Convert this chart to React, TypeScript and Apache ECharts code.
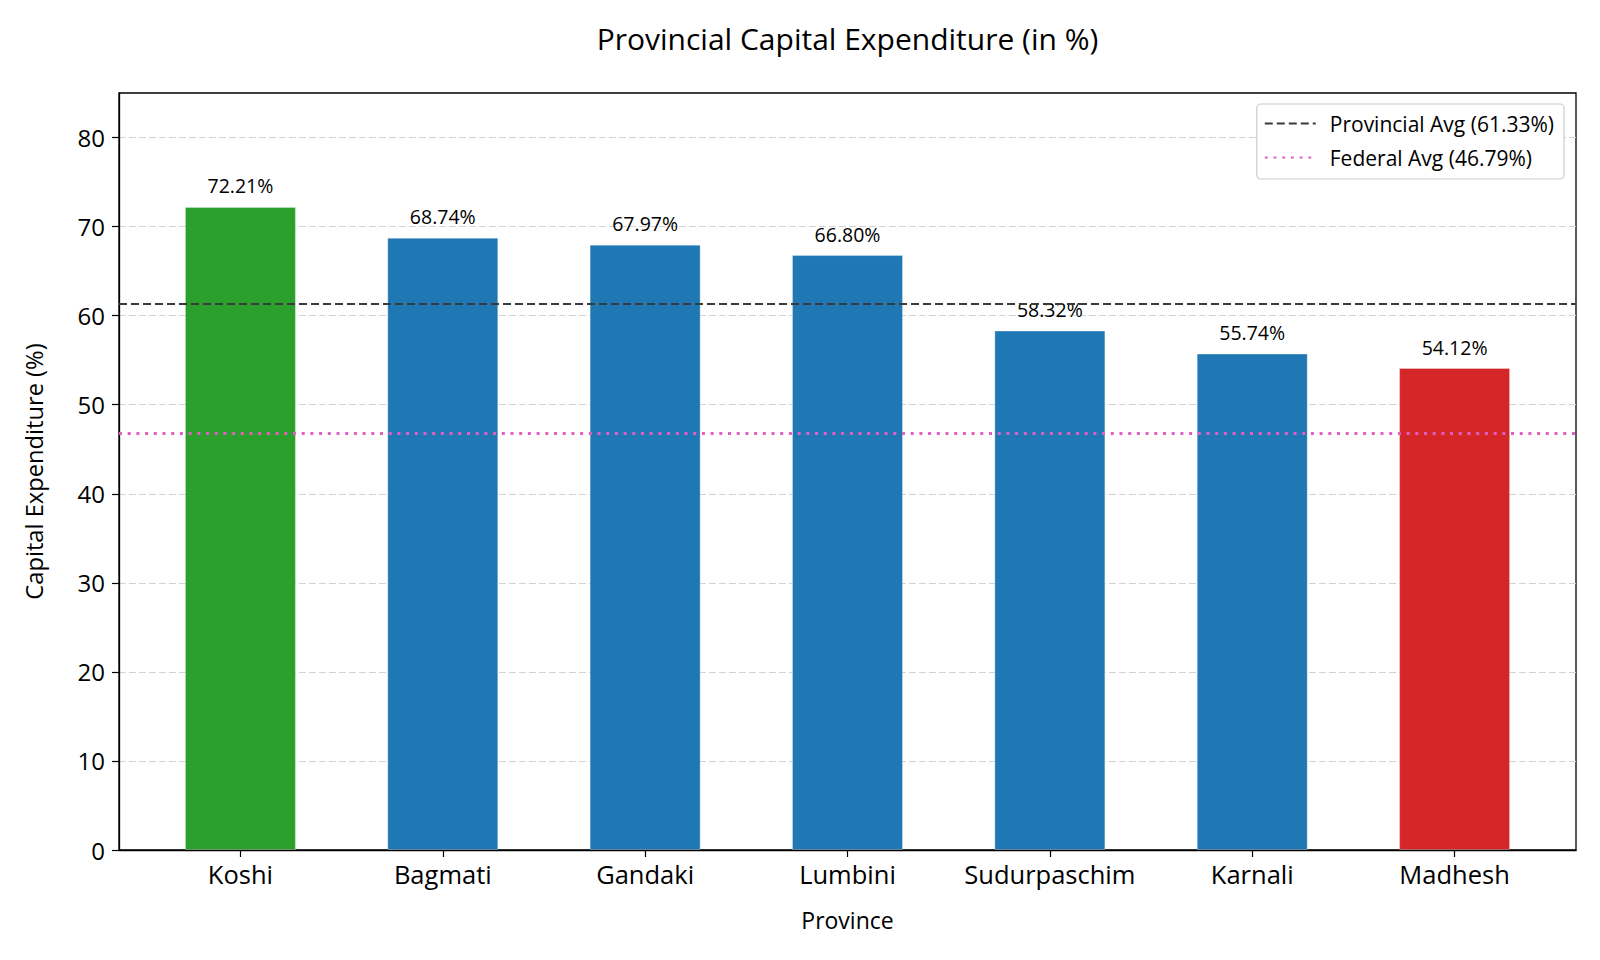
import React, { useEffect, useRef } from "react";
import * as echarts from "echarts";

const provinces = ["Koshi", "Bagmati", "Gandaki", "Lumbini", "Sudurpaschim", "Karnali", "Madhesh"];
const capex = [72.21, 68.74, 67.97, 66.8, 58.32, 55.74, 54.12];
const barColors = ["#2ca02c", "#1f77b4", "#1f77b4", "#1f77b4", "#1f77b4", "#1f77b4", "#d62728"];
const provincialAvg = 61.33;
const federalAvg = 46.79;
const yTicks = [0, 10, 20, 30, 40, 50, 60, 70, 80];
const xTicks = [0, 1, 2, 3, 4, 5, 6];

const FONT = "Open Sans";
const GRID = { left: 119, right: 24, top: 93, bottom: 110 };

export default function App() {
  const ref = useRef<HTMLDivElement>(null);
  useEffect(() => {
    document.body.style.margin = "0";
    const chart = echarts.init(ref.current!, null, { renderer: "svg" });
    const axesCenter = GRID.left + (1600 - GRID.left - GRID.right) / 2;
    chart.setOption({
      animation: false,
      textStyle: { fontFamily: FONT, color: "#000" },
      graphic: [
        {
          type: "text",
          x: axesCenter,
          y: 38,
          style: {
            text: "Provincial Capital Expenditure (in %)",
            fontFamily: FONT,
            fontSize: 30,
            fill: "#000",
            textAlign: "center",
            textVerticalAlign: "middle",
          },
          z: 10,
        },
      ],
      legend: {
        orient: "vertical",
        right: 36,
        top: 104,
        padding: [9, 10, 11, 7],
        itemWidth: 51,
        itemHeight: 14,
        itemGap: 13,
        borderColor: "#cccccc",
        borderWidth: 1.2,
        borderRadius: 4,
        backgroundColor: "#fff",
        itemStyle: { opacity: 0 },
        textStyle: { fontFamily: FONT, fontSize: 21, color: "#000", padding: [0, 0, 0, 9] },
        data: [
          { name: `Provincial Avg (${provincialAvg.toFixed(2)}%)` },
          { name: `Federal Avg (${federalAvg.toFixed(2)}%)` },
        ],
      },
      grid: {
        ...GRID,
        show: true,
        borderColor: "#000",
        borderWidth: 1.3,
        containLabel: false,
      },
      xAxis: {
        type: "value",
        min: -0.6,
        max: 6.6,
        name: "Province",
        nameLocation: "middle",
        nameGap: 58,
        nameTextStyle: { fontFamily: FONT, fontSize: 23, color: "#000" },
        axisLine: { show: true, onZero: false, lineStyle: { color: "#000", width: 1.3 } },
        axisTick: { show: true, customValues: xTicks, length: 7, lineStyle: { color: "#000", width: 1.2 } },
        axisLabel: {
          customValues: xTicks,
          margin: 11,
          fontFamily: FONT,
          fontSize: 25.5,
          color: "#000",
          formatter: (v: number) => provinces[Math.round(v)] ?? "",
        },
        splitLine: { show: false },
      },
      yAxis: {
        type: "value",
        min: 0,
        max: 85,
        name: "Capital Expenditure (%)",
        nameLocation: "middle",
        nameGap: 73,
        nameTextStyle: { fontFamily: FONT, fontSize: 23.7, color: "#000" },
        axisLine: { show: true, onZero: false, lineStyle: { color: "#000", width: 1.3 } },
        axisTick: { show: true, customValues: yTicks, length: 7, lineStyle: { color: "#000", width: 1.2 } },
        axisLabel: { customValues: yTicks, margin: 14, fontFamily: FONT, fontSize: 24, color: "#000" },
        splitLine: { show: true, lineStyle: { color: "#d3d3d3", type: [7, 3], width: 1.2 } },
      },
      series: [
        {
          type: "bar",
          barWidth: 111,
          data: capex.map((v, i) => ({
            value: [i, v],
            itemStyle: { color: barColors[i], borderColor: "rgba(255,255,255,0.3)", borderWidth: 1 },
          })),
          label: {
            show: true,
            position: "top",
            distance: 11,
            fontFamily: FONT,
            fontSize: 19.5,
            color: "#000",
            formatter: (p: any) => `${p.value[1].toFixed(2)}%`,
          },
          z: 2,
        },
        {
          type: "line",
          name: `Provincial Avg (${provincialAvg.toFixed(2)}%)`,
          data: [],
          symbol: "none",
          showSymbol: false,
          color: "#3a3a3a",
          lineStyle: { color: "#3a3a3a", type: [8, 4], width: 2.2 },
          markLine: {
            silent: true,
            symbol: "none",
            label: { show: false },
            lineStyle: { color: "#3a3a3a", type: [8, 4], width: 2.2 },
            data: [{ yAxis: provincialAvg }],
          },
          z: 5,
        },
        {
          type: "line",
          name: `Federal Avg (${federalAvg.toFixed(2)}%)`,
          data: [],
          symbol: "none",
          showSymbol: false,
          color: "#e15fc3",
          lineStyle: { color: "#e15fc3", type: [3, 5.7], width: 3 },
          markLine: {
            silent: true,
            symbol: "none",
            label: { show: false },
            lineStyle: { color: "#e15fc3", type: [3, 5.7], width: 3 },
            data: [{ yAxis: federalAvg }],
          },
          z: 5,
        },
      ],
    });
    return () => chart.dispose();
  }, []);
  return <div ref={ref} style={{ width: 1600, height: 960 }} />;
}
